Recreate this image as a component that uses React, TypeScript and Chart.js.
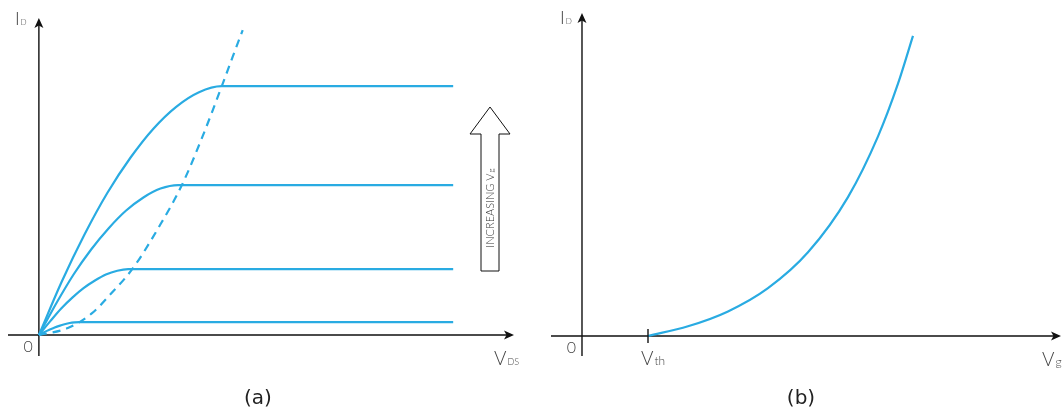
import React, { useEffect, useRef } from "react";
import { Chart, registerables } from "chart.js";

Chart.register(...registerables);

const BLUE = "#29abe2";
const AXIS = "#111111";
const LABEL = "#444444";
const CAPTION = "#222222";

// ---------- Panel (a): output characteristics (I_D vs V_DS, arbitrary units) ----------
const level1V = [0, 0.48, 0.96, 1.44, 1.93, 2.41, 2.89, 3.37, 3.85, 8.72];
const level1I = [0, 1.68, 3.17, 4.48, 5.6, 6.51, 7.2, 7.66, 7.85, 7.85];

const level2V = [0, 0.37, 0.73, 1.1, 1.47, 1.83, 2.2, 2.56, 2.93, 8.72];
const level2I = [0, 1.01, 1.91, 2.7, 3.37, 3.92, 4.34, 4.62, 4.73, 4.73];

const level3V = [0, 0.24, 0.47, 0.71, 0.94, 1.18, 1.41, 1.65, 1.88, 8.72];
const level3I = [0, 0.44, 0.84, 1.19, 1.48, 1.72, 1.91, 2.03, 2.08, 2.08];

const level4V = [0, 0.11, 0.22, 0.32, 0.43, 0.54, 0.65, 0.75, 0.86, 8.72];
const level4I = [0, 0.09, 0.17, 0.23, 0.29, 0.34, 0.38, 0.4, 0.41, 0.41];

// saturation boundary (dashed)
const boundaryV = [0, 0.61, 1.12, 1.49, 1.98, 2.55, 3.01, 3.43, 3.85, 4.08, 4.29];
const boundaryI = [0, 0.22, 0.69, 1.26, 2.11, 3.47, 4.73, 6.21, 7.85, 8.78, 9.62];

// ---------- Panel (b): transfer characteristic (I_D vs V_g) ----------
const transferV = [1.378, 2.213, 3.048, 3.883, 4.718, 5.553, 6.18, 6.597, 6.91];
const transferI = [0, 0.3, 0.76, 1.48, 2.59, 4.3, 6.18, 7.81, 9.29];
const thresholdV = [1.378];

// ---------- Texts ----------
const yAxisLabel = ["I", "D"];
const xAxisLabelA = ["V", "DS"];
const xAxisLabelB = ["V", "g"];
const thresholdLabel = ["V", "th"];
const originLabel = "0";
const arrowLabel = ["INCREASING V", "g"];
const captions = ["(a)", "(b)"];

const font = (size: number, weight = 300) =>
  `${weight} ${size}px Lato, "Open Sans", "DejaVu Sans", sans-serif`;

const pts = (v: number[], i: number[]) => v.map((x, k) => ({ x, y: i[k] }));

function arrowHead(ctx: CanvasRenderingContext2D, x: number, y: number, dir: "up" | "right") {
  const L = 10, W = 4.5, N = 2.5;
  ctx.beginPath();
  if (dir === "up") {
    ctx.moveTo(x, y);
    ctx.lineTo(x - W, y + L);
    ctx.lineTo(x, y + L - N);
    ctx.lineTo(x + W, y + L);
  } else {
    ctx.moveTo(x, y);
    ctx.lineTo(x - L, y - W);
    ctx.lineTo(x - L + N, y);
    ctx.lineTo(x - L, y + W);
  }
  ctx.closePath();
  ctx.fill();
}

function drawSub(
  ctx: CanvasRenderingContext2D,
  main: string,
  sub: string,
  x: number,
  base: number,
  mainSize: number,
  subSize: number
) {
  ctx.textAlign = "left";
  ctx.textBaseline = "alphabetic";
  ctx.font = font(mainSize);
  ctx.fillText(main, x, base);
  const w = ctx.measureText(main).width;
  ctx.font = font(subSize);
  ctx.fillText(sub, x + w + 1, base);
}

const axesPlugin = {
  id: "axesPlugin",
  beforeDatasetsDraw(chart: any) {
    const { ctx, chartArea, scales } = chart;
    const x0 = scales.x.getPixelForValue(0);
    const y0 = scales.y.getPixelForValue(0);
    ctx.save();
    ctx.strokeStyle = AXIS;
    ctx.fillStyle = AXIS;
    ctx.lineWidth = 1.4;
    ctx.beginPath();
    ctx.moveTo(chartArea.left, y0);
    ctx.lineTo(chartArea.right - 5, y0);
    ctx.moveTo(x0, chartArea.bottom);
    ctx.lineTo(x0, chartArea.top + 5);
    ctx.stroke();
    arrowHead(ctx, chartArea.right, y0, "right");
    arrowHead(ctx, x0, chartArea.top, "up");
    ctx.restore();
  },
};

const captionFont = '20px "DejaVu Sans", sans-serif';

const labelsA = {
  id: "labelsA",
  afterDraw(chart: any) {
    const { ctx, chartArea, scales } = chart;
    const x0 = scales.x.getPixelForValue(0);
    const y0 = scales.y.getPixelForValue(0);
    ctx.save();
    ctx.fillStyle = LABEL;
    drawSub(ctx, yAxisLabel[0], yAxisLabel[1], x0 - 24, chartArea.top + 7, 18, 8);
    ctx.font = font(16);
    ctx.textAlign = "right";
    ctx.fillText(originLabel, x0 - 6, y0 + 17);
    drawSub(ctx, xAxisLabelA[0], xAxisLabelA[1], chartArea.right - 20, y0 + 30, 19, 9);

    // hollow "increasing" arrow
    const cx = chartArea.right - 24;
    const tip = 107, headBase = 134, bottom = 271;
    ctx.beginPath();
    ctx.moveTo(cx - 9, bottom);
    ctx.lineTo(cx - 9, headBase);
    ctx.lineTo(cx - 20, headBase);
    ctx.lineTo(cx, tip);
    ctx.lineTo(cx + 20, headBase);
    ctx.lineTo(cx + 9, headBase);
    ctx.lineTo(cx + 9, bottom);
    ctx.closePath();
    ctx.fillStyle = "#ffffff";
    ctx.fill();
    ctx.strokeStyle = AXIS;
    ctx.lineWidth = 1;
    ctx.stroke();

    ctx.fillStyle = "#333333";
    ctx.font = font(11);
    const w1 = ctx.measureText(arrowLabel[0]).width;
    ctx.font = font(8);
    const w2 = ctx.measureText(arrowLabel[1]).width;
    const total = w1 + 1 + w2;
    ctx.translate(cx + 4, 208);
    ctx.rotate(-Math.PI / 2);
    drawSub(ctx, arrowLabel[0], arrowLabel[1], -total / 2, 0, 11, 8);
    ctx.restore();

    ctx.save();
    ctx.fillStyle = CAPTION;
    ctx.font = captionFont;
    ctx.textAlign = "center";
    ctx.textBaseline = "alphabetic";
    ctx.fillText(captions[0], x0 + 219, 404);
    ctx.restore();
  },
};

const labelsB = {
  id: "labelsB",
  afterDraw(chart: any) {
    const { ctx, chartArea, scales } = chart;
    const x0 = scales.x.getPixelForValue(0);
    const y0 = scales.y.getPixelForValue(0);
    const xt = scales.x.getPixelForValue(thresholdV[0]);
    ctx.save();
    ctx.strokeStyle = AXIS;
    ctx.lineWidth = 1.4;
    ctx.beginPath();
    ctx.moveTo(xt, y0 - 7);
    ctx.lineTo(xt, y0 + 7);
    ctx.stroke();

    ctx.fillStyle = LABEL;
    drawSub(ctx, yAxisLabel[0], yAxisLabel[1], x0 - 22, chartArea.top + 11, 18, 8);
    ctx.font = font(16);
    ctx.textAlign = "right";
    ctx.fillText(originLabel, x0 - 6, y0 + 17);
    drawSub(ctx, thresholdLabel[0], thresholdLabel[1], xt - 7, y0 + 29, 19, 12);
    drawSub(ctx, xAxisLabelB[0], xAxisLabelB[1], chartArea.right - 19, y0 + 30, 19, 12);

    ctx.fillStyle = CAPTION;
    ctx.font = captionFont;
    ctx.textAlign = "center";
    ctx.fillText(captions[1], x0 + 219, 404);
    ctx.restore();
  },
};

const lineDs = (data: { x: number; y: number }[], dashed = false) => ({
  data,
  showLine: true,
  borderColor: BLUE,
  backgroundColor: BLUE,
  borderWidth: 2.2,
  pointRadius: 0,
  cubicInterpolationMode: "monotone" as const,
  borderDash: dashed ? [8, 6] : [],
  fill: false,
});

function makeOptions(xmin: number, xmax: number, ymin: number, ymax: number, padding: any) {
  return {
    responsive: false,
    animation: false as const,
    events: [],
    layout: { padding },
    plugins: { legend: { display: false }, tooltip: { enabled: false }, title: { display: false } },
    scales: {
      x: { type: "linear" as const, min: xmin, max: xmax, display: false },
      y: { type: "linear" as const, min: ymin, max: ymax, display: false },
    },
  };
}

export default function App() {
  const refA = useRef<HTMLCanvasElement>(null);
  const refB = useRef<HTMLCanvasElement>(null);

  useEffect(() => {
    const chartA = new Chart(refA.current!, {
      type: "scatter",
      data: {
        datasets: [
          lineDs(pts(level1V, level1I)),
          lineDs(pts(level2V, level2I)),
          lineDs(pts(level3V, level3I)),
          lineDs(pts(level4V, level4I)),
          lineDs(pts(boundaryV, boundaryI), true),
        ],
      },
      options: makeOptions(-0.65, 10, -0.66, 10, { left: 8, right: 26, top: 18, bottom: 60 }) as any,
      plugins: [axesPlugin, labelsA],
    });
    const chartB = new Chart(refB.current!, {
      type: "scatter",
      data: { datasets: [lineDs(pts(transferV, transferI))] },
      options: makeOptions(-0.647, 10, -0.62, 10, { left: 11, right: 1, top: 13, bottom: 60 }) as any,
      plugins: [axesPlugin, labelsB],
    });
    return () => {
      chartA.destroy();
      chartB.destroy();
    };
  }, []);

  return (
    <div style={{ position: "fixed", left: 0, top: 0, width: 1062, height: 416, background: "#fff" }}>
      <canvas ref={refA} width={540} height={416} style={{ position: "absolute", left: 0, top: 0 }} />
      <canvas ref={refB} width={522} height={416} style={{ position: "absolute", left: 540, top: 0 }} />
    </div>
  );
}
